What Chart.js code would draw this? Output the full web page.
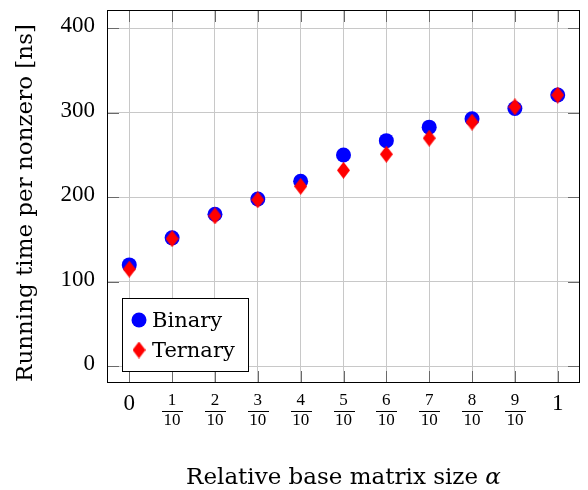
<!DOCTYPE html>
<html>
<head>
<meta charset="utf-8">
<script src="https://cdn.jsdelivr.net/npm/chart.js@4.4.0/dist/chart.umd.min.js"></script>
<style>
html,body{margin:0;padding:0;background:#fff;}
#wrap{width:588px;height:490px;position:relative;}
</style>
</head>
<body>
<div id="wrap"><canvas id="c" width="588" height="490"></canvas></div>
<script>
const xValues = [0, 0.1, 0.2, 0.3, 0.4, 0.5, 0.6, 0.7, 0.8, 0.9, 1];
const xTickLabels = ['0', '1/10', '2/10', '3/10', '4/10', '5/10', '6/10', '7/10', '8/10', '9/10', '1'];
const yTickValues = [0, 100, 200, 300, 400];
const yTickLabels = ['0', '100', '200', '300', '400'];
const binary = [120, 152, 180, 198, 219, 250, 267, 283, 293, 305, 321];
const ternary = [115, 151, 178, 197, 213, 232, 251, 270, 289, 307, 321];
const seriesNames = ['Binary', 'Ternary'];
const xTitle = 'Relative base matrix size ';
const xTitleSym = 'α';
const yTitle = 'Running time per nonzero [ns]';

const NUMFONT = '"Liberation Serif", serif';
const TXTFONT = '"DejaVu Serif", serif';

function diamondImage(w, h, color) {
  const c = document.createElement('canvas');
  c.width = w; c.height = h;
  const g = c.getContext('2d');
  g.fillStyle = color;
  g.beginPath();
  g.moveTo(w / 2, 0);
  g.lineTo(w, h / 2);
  g.lineTo(w / 2, h);
  g.lineTo(0, h / 2);
  g.closePath();
  g.fill();
  return c;
}
const diamond = diamondImage(13, 17, '#ff0000');

const frame = {
  id: 'frame',
  afterDraw(chart) {
    const ctx = chart.ctx;
    const a = chart.chartArea;
    const xs = chart.scales.x, ys = chart.scales.y;
    ctx.save();
    // tick marks inside on all sides
    ctx.strokeStyle = '#6a6a6a';
    ctx.lineWidth = 1;
    const tl = 12;
    xValues.forEach(v => {
      const px = Math.round(xs.getPixelForValue(v)) + 0.5;
      ctx.beginPath();
      ctx.moveTo(px, a.bottom); ctx.lineTo(px, a.bottom - tl);
      ctx.moveTo(px, a.top); ctx.lineTo(px, a.top + tl);
      ctx.stroke();
    });
    yTickValues.forEach(v => {
      const py = Math.round(ys.getPixelForValue(v)) + 0.5;
      ctx.beginPath();
      ctx.moveTo(a.left, py); ctx.lineTo(a.left + tl, py);
      ctx.moveTo(a.right, py); ctx.lineTo(a.right - tl, py);
      ctx.stroke();
    });
    // border
    ctx.strokeStyle = '#000';
    ctx.strokeRect(Math.round(a.left) + 0.5, Math.round(a.top) + 0.5,
                   Math.round(a.right - a.left) - 1, Math.round(a.bottom - a.top) - 1);

    ctx.fillStyle = '#000';
    // y tick labels
    ctx.font = '23px ' + NUMFONT;
    ctx.textAlign = 'right';
    ctx.textBaseline = 'alphabetic';
    yTickValues.forEach((v, i) => {
      const py = ys.getPixelForValue(v);
      ctx.fillText(yTickLabels[i], a.left - 12, py + 4);
    });

    // x tick labels (fractions)
    ctx.textAlign = 'center';
    xValues.forEach((v, i) => {
      const px = xs.getPixelForValue(v);
      const lab = xTickLabels[i];
      if (lab.indexOf('/') < 0) {
        ctx.font = '23px ' + NUMFONT;
        ctx.fillText(lab, px, a.bottom + 27);
      } else {
        const [n, d] = lab.split('/');
        ctx.font = '17px ' + NUMFONT;
        ctx.fillText(n, px, a.bottom + 22);
        ctx.fillText(d, px, a.bottom + 42);
        ctx.fillRect(Math.round(px - 10), a.bottom + 28, 21, 1);
      }
    });

    // x title
    ctx.font = '23px ' + TXTFONT;
    ctx.textBaseline = 'alphabetic';
    ctx.textAlign = 'left';
    const w1 = ctx.measureText(xTitle).width;
    ctx.font = 'italic 23px ' + TXTFONT;
    const w2 = ctx.measureText(xTitleSym).width;
    const cx = (a.left + a.right) / 2;
    let sx = cx - (w1 + w2) / 2;
    ctx.font = '23px ' + TXTFONT;
    ctx.fillText(xTitle, sx, 484);
    ctx.font = 'italic 23px ' + TXTFONT;
    ctx.fillText(xTitleSym, sx + w1, 484);

    // y title
    ctx.save();
    ctx.translate(32, 203);
    ctx.rotate(-Math.PI / 2);
    ctx.font = '23px ' + TXTFONT;
    ctx.textAlign = 'center';
    ctx.textBaseline = 'alphabetic';
    ctx.fillText(yTitle, 0, 0);
    ctx.restore();

    // legend
    const lx = 122, ly = 298, lw = 126, lh = 73;
    ctx.fillStyle = '#fff';
    ctx.fillRect(lx, ly, lw, lh);
    ctx.strokeStyle = '#000';
    ctx.strokeRect(lx + 0.5, ly + 0.5, lw, lh);
    ctx.fillStyle = '#0000ff';
    ctx.beginPath();
    ctx.arc(139, 320, 7.5, 0, Math.PI * 2);
    ctx.fill();
    ctx.drawImage(diamond, 139 - 6.5, 350 - 8.5);
    ctx.fillStyle = '#000';
    ctx.font = '21px ' + TXTFONT;
    ctx.textAlign = 'left';
    ctx.textBaseline = 'alphabetic';
    ctx.fillText(seriesNames[0], 152, 327);
    ctx.fillText(seriesNames[1], 152, 357);
    ctx.restore();
  }
};

new Chart(document.getElementById('c'), {
  type: 'scatter',
  data: {
    datasets: [
      {
        label: seriesNames[0],
        data: xValues.map((x, i) => ({x: x, y: binary[i]})),
        order: 1,
        pointStyle: 'circle',
        pointRadius: 7.5,
        pointHoverRadius: 7.5,
        backgroundColor: '#0000ff',
        borderColor: '#0000ff',
        borderWidth: 0
      },
      {
        label: seriesNames[1],
        data: xValues.map((x, i) => ({x: x, y: ternary[i]})),
        order: 0,
        pointStyle: diamond,
        pointRadius: 8,
        backgroundColor: '#ff0000',
        borderColor: '#ff0000',
        borderWidth: 0
      }
    ]
  },
  options: {
    responsive: false,
    animation: false,
    events: [],
    layout: {padding: {left: 0, right: 8, top: 10, bottom: 0}},
    plugins: {legend: {display: false}, tooltip: {enabled: false}},
    scales: {
      x: {
        type: 'linear',
        min: -0.052,
        max: 1.052,
        afterBuildTicks(s) { s.ticks = xValues.map(v => ({value: v})); },
        afterFit(s) { s.height = 107; s.paddingLeft = 0; s.paddingRight = 0; },
        ticks: {display: false},
        grid: {color: '#c8c8c8', lineWidth: 1, drawTicks: false},
        border: {display: false}
      },
      y: {
        type: 'linear',
        min: -19.7,
        max: 421.6,
        afterBuildTicks(s) { s.ticks = yTickValues.map(v => ({value: v})); },
        afterFit(s) { s.width = 107; s.paddingTop = 0; s.paddingBottom = 0; },
        ticks: {display: false},
        grid: {color: '#c8c8c8', lineWidth: 1, drawTicks: false},
        border: {display: false}
      }
    }
  },
  plugins: [frame]
});
</script>
</body>
</html>
